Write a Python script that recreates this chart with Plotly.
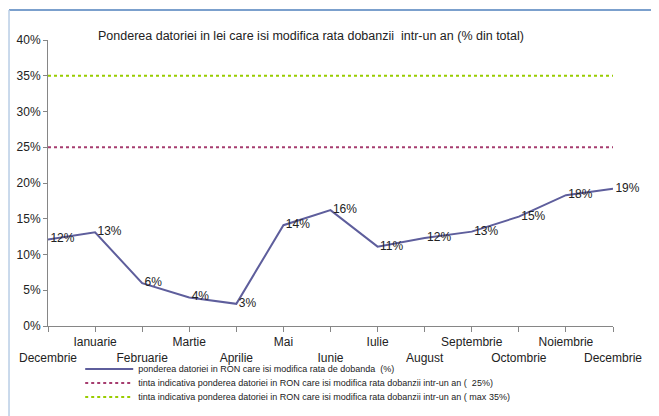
import plotly.graph_objects as go

# Data
months = ["Decembrie", "Ianuarie", "Februarie", "Martie", "Aprilie", "Mai", "Iunie",
          "Iulie", "August", "Septembrie", "Octombrie", "Noiembrie", "Decembrie"]
pondere = [12.1, 13.1, 6.0, 4.0, 3.1, 14.1, 16.2, 11.1, 12.3, 13.2, 15.3, 18.3, 19.2]
tinta_25 = [25] * len(months)
tinta_35 = [35] * len(months)

legend_names = [
    "ponderea datoriei in RON care isi modifica rata de dobanda  (%)",
    "tinta indicativa ponderea datoriei in RON care isi modifica rata dobanzii intr-un an (  25%)",
    "tinta indicativa ponderea datoriei in RON care isi modifica rata dobanzii intr-un an ( max 35%)",
]
title = "Ponderea datoriei in lei care isi modifica rata dobanzii  intr-un an (% din total)"

x = list(range(len(months)))
# alternate tick labels on two rows
ticktext = [m if i % 2 else "<br>" + m for i, m in enumerate(months)]

font = "Liberation Sans, Arial, sans-serif"

fig = go.Figure()
fig.add_trace(go.Scatter(
    x=x, y=[v / 100 for v in pondere], mode="lines+text",
    text=[f"\u2009{round(v)}%" for v in pondere], textposition="middle right",
    textfont=dict(size=12, color="#222"),
    line=dict(color="#5E5E9C", width=2), cliponaxis=False,
    name=legend_names[0], legend="legend",
))
fig.add_trace(go.Scatter(
    x=x, y=[v / 100 for v in tinta_25], mode="lines",
    line=dict(color="#A63D6F", width=2, dash="3px,3px"),
    name=legend_names[1], legend="legend2",
))
fig.add_trace(go.Scatter(
    x=x, y=[v / 100 for v in tinta_35], mode="lines",
    line=dict(color="#99CC00", width=2, dash="3px,3px"),
    name=legend_names[2], legend="legend3",
))

# the page body adds an 8px margin, so the figure is laid out 8px up/left
leg = dict(x=0.057, xanchor="left", yanchor="middle", font=dict(size=9, color="#222"),
           bgcolor="rgba(0,0,0,0)", itemwidth=48)
fig.update_layout(
    width=659, height=416,
    margin=dict(l=40, r=54, t=32, b=98, autoexpand=False),
    paper_bgcolor="white", plot_bgcolor="white",
    font=dict(family=font, size=12, color="#222"),
    showlegend=True,
    legend=dict(leg, y=-0.150),
    legend2=dict(leg, y=-0.199),
    legend3=dict(leg, y=-0.248),
    xaxis=dict(range=[0, 12], tickvals=x, ticktext=ticktext, tickangle=0, showgrid=False,
               showline=True, linecolor="#868686", ticks="outside", ticklen=5,
               tickcolor="#868686", zeroline=False, tickfont=dict(size=12),
               automargin=False),
    yaxis=dict(range=[0, 0.4], tickvals=[i / 100 for i in range(0, 41, 5)],
               tickformat=".0%", showgrid=False, showline=True, linecolor="#868686",
               ticks="outside", ticklen=4, tickcolor="#868686", zeroline=False,
               tickfont=dict(size=12), automargin=False),
    annotations=[dict(text=title, x=0.465, y=(326 - 36) / 286, xref="paper", yref="paper",
                      yanchor="middle", showarrow=False, font=dict(size=12.5, color="#222"))],
    shapes=[
        dict(type="line", xref="paper", yref="paper", x0=-0.069, x1=1.071,
             y0=1.105, y1=1.105, line=dict(color="#4F81BD", width=1.5)),
        dict(type="line", xref="paper", yref="paper", x0=-0.069, x1=-0.069,
             y0=1.105, y1=-0.33, line=dict(color="#B9CDE5", width=1.5)),
    ],
)

fig.write_html("out.html")
